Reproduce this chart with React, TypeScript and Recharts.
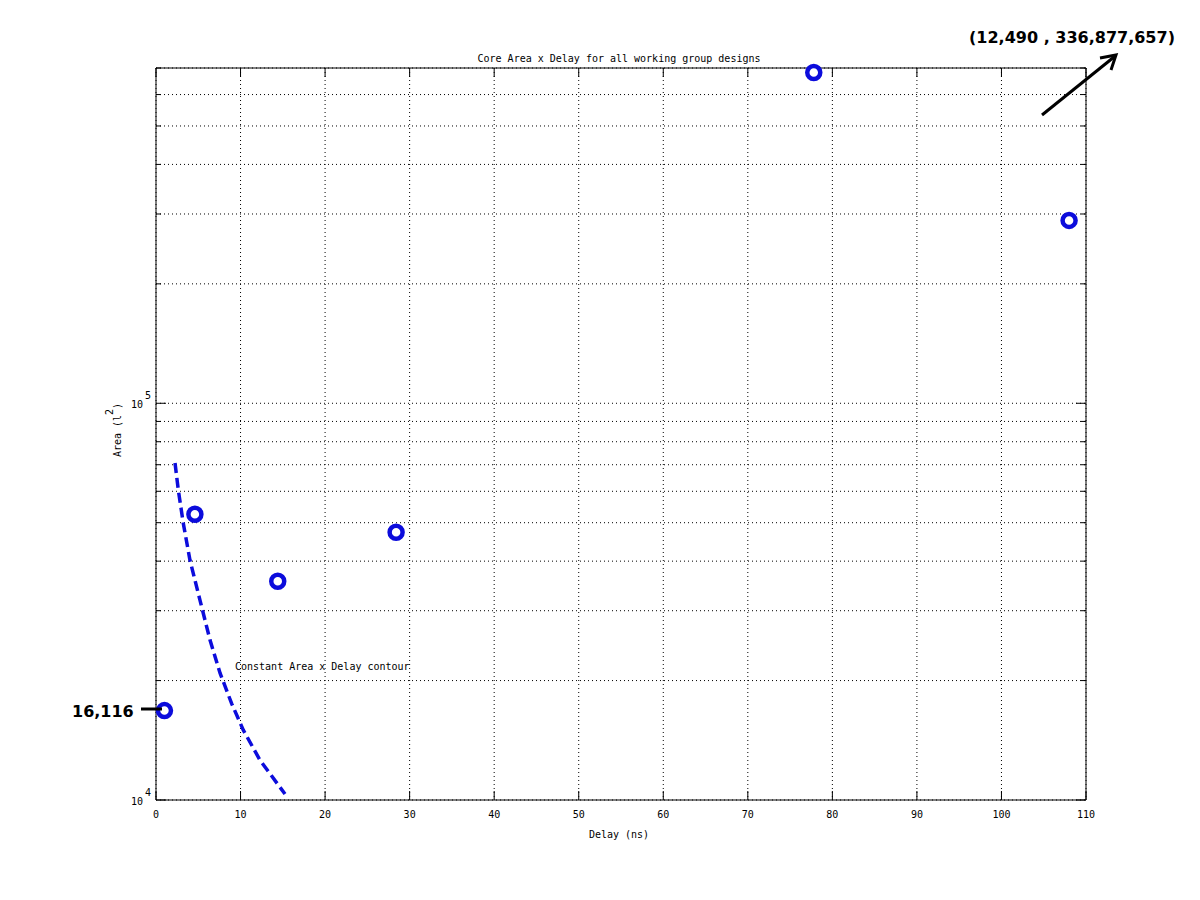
import { CartesianGrid, Scatter, ScatterChart, XAxis, YAxis } from "recharts";

const delayTicks = [0, 10, 20, 30, 40, 50, 60, 70, 80, 90, 100, 110];
const areaTicks = [
  10000, 20000, 30000, 40000, 50000, 60000, 70000, 80000, 90000,
  100000, 200000, 300000, 400000, 500000, 600000, 700000,
];
const majorAreas = [10000, 100000];

const designDelay = [1.0, 4.6, 14.4, 28.4, 77.8, 108.0];
const designArea = [16800, 52500, 35600, 47300, 682000, 289000];

const contourDelay = [2.25, 2.64, 3.23, 4.02, 5.2, 6.39, 7.57, 8.95, 10.33, 12.3, 15.26];
const contourArea = [70700, 60400, 49800, 40200, 31900, 25300, 20900, 17500, 15000, 12600, 10350];

const designs = designDelay.map((d, i) => ({ delay: d, area: designArea[i] }));
const contour = contourDelay.map((d, i) => ({ delay: d, area: contourArea[i] }));

const MONO = "'DejaVu Sans Mono', monospace";
const BLUE = "#0c0cdc";

const BottomTick = (props: any) => {
  const { x, y, payload } = props;
  return (
    <g>
      <line x1={x} y1={y} x2={x} y2={y - 9} stroke="#000" />
      <text x={x} y={y + 18} textAnchor="middle" fontSize={10} fontFamily={MONO} fill="#000">
        {payload.value}
      </text>
    </g>
  );
};

const TopTick = (props: any) => {
  const { x, y } = props;
  return <line x1={x} y1={y} x2={x} y2={y + 9} stroke="#000" />;
};

const LeftTick = (props: any) => {
  const { x, y, payload } = props;
  const major = majorAreas.includes(payload.value);
  const exp = Math.round(Math.log10(payload.value));
  return (
    <g>
      <line x1={x} y1={y} x2={x + (major ? 10 : 5)} y2={y} stroke="#000" />
      {major && (
        <>
          <text x={x - 13} y={y + 5} textAnchor="end" fontSize={10} fontFamily={MONO} fill="#000">
            10
          </text>
          <text x={x - 11} y={y - 4} fontSize={10} fontFamily={MONO} fill="#000">
            {exp}
          </text>
        </>
      )}
    </g>
  );
};

const RightTick = (props: any) => {
  const { x, y, payload } = props;
  const major = majorAreas.includes(payload.value);
  return <line x1={x} y1={y} x2={x - (major ? 10 : 5)} y2={y} stroke="#000" />;
};

const Ring = (props: any) => {
  const { cx, cy } = props;
  return <circle cx={cx} cy={cy} r={6.5} fill="#fff" stroke={BLUE} strokeWidth={4.5} />;
};

const NoDot = () => <g />;

export default function App() {
  return (
    <div style={{ position: "absolute", left: 0, top: 0, width: 1200, height: 900, background: "#fff" }}>
      <ScatterChart
        width={1200}
        height={900}
        margin={{ top: 67, right: 113, bottom: 70, left: 155 }}
      >
        <CartesianGrid stroke="#000" strokeDasharray="1 3" />
        <XAxis
          dataKey="delay"
          type="number"
          domain={[0, 110]}
          ticks={delayTicks}
          height={30}
          tickSize={0}
          tickMargin={0}
          tickLine={false}
          axisLine={{ stroke: "#000" }}
          tick={<BottomTick />}
          interval={0}
        />
        <XAxis
          xAxisId="top"
          orientation="top"
          dataKey="delay"
          type="number"
          domain={[0, 110]}
          ticks={delayTicks}
          height={1}
          tickSize={0}
          tickMargin={0}
          tickLine={false}
          axisLine={{ stroke: "#000" }}
          tick={<TopTick />}
          interval={0}
        />
        <YAxis
          dataKey="area"
          type="number"
          scale="log"
          domain={[10000, 700000]}
          ticks={areaTicks}
          width={1}
          tickSize={0}
          tickMargin={0}
          tickLine={false}
          axisLine={{ stroke: "#000" }}
          tick={<LeftTick />}
          interval={0}
        />
        <YAxis
          yAxisId="right"
          orientation="right"
          dataKey="area"
          type="number"
          scale="log"
          domain={[10000, 700000]}
          ticks={areaTicks}
          width={1}
          tickSize={0}
          tickMargin={0}
          tickLine={false}
          axisLine={{ stroke: "#000" }}
          tick={<RightTick />}
          interval={0}
        />
        <Scatter
          data={contour}
          line={{ stroke: BLUE, strokeWidth: 3.5, strokeDasharray: "10 5" }}
          lineType="joint"
          shape={<NoDot />}
          isAnimationActive={false}
        />
        <Scatter data={designs} shape={<Ring />} isAnimationActive={false} />
        <Scatter xAxisId="top" yAxisId="right" data={designs} shape={<NoDot />} isAnimationActive={false} />
      </ScatterChart>

      <svg
        width={1200}
        height={900}
        style={{ position: "absolute", left: 0, top: 0, pointerEvents: "none" }}
      >
        <text x={619} y={62} textAnchor="middle" fontSize={10} fontFamily={MONO} fill="#000">
          Core Area x Delay for all working group designs
        </text>
        <text x={619} y={838} textAnchor="middle" fontSize={10} fontFamily={MONO} fill="#000">
          Delay (ns)
        </text>
        <text
          transform="translate(121, 430) rotate(-90)"
          textAnchor="middle"
          fontSize={10}
          fontFamily={MONO}
          fill="#000"
        >
          Area (l
          <tspan dy={-8}>2</tspan>
          <tspan dy={8}>)</tspan>
        </text>
        <text x={235} y={670} fontSize={10} fontFamily={MONO} fill="#000">
          Constant Area x Delay contour
        </text>

        <text x={969} y={43} fontSize={16} fontWeight="bold" fontFamily="'DejaVu Sans', Verdana, sans-serif" fill="#000">
          (12,490 , 336,877,657)
        </text>
        <line x1={1042} y1={115} x2={1114} y2={57} stroke="#000" strokeWidth={3} />
        <polyline
          points="1100,58 1116,55 1111,70"
          fill="none"
          stroke="#000"
          strokeWidth={3}
          strokeLinejoin="miter"
        />

        <text x={72} y={717} fontSize={16} fontWeight="bold" fontFamily="'DejaVu Sans', Verdana, sans-serif" fill="#000">
          16,116
        </text>
        <line x1={141} y1={709} x2={162} y2={709} stroke="#000" strokeWidth={3} />
      </svg>
    </div>
  );
}
